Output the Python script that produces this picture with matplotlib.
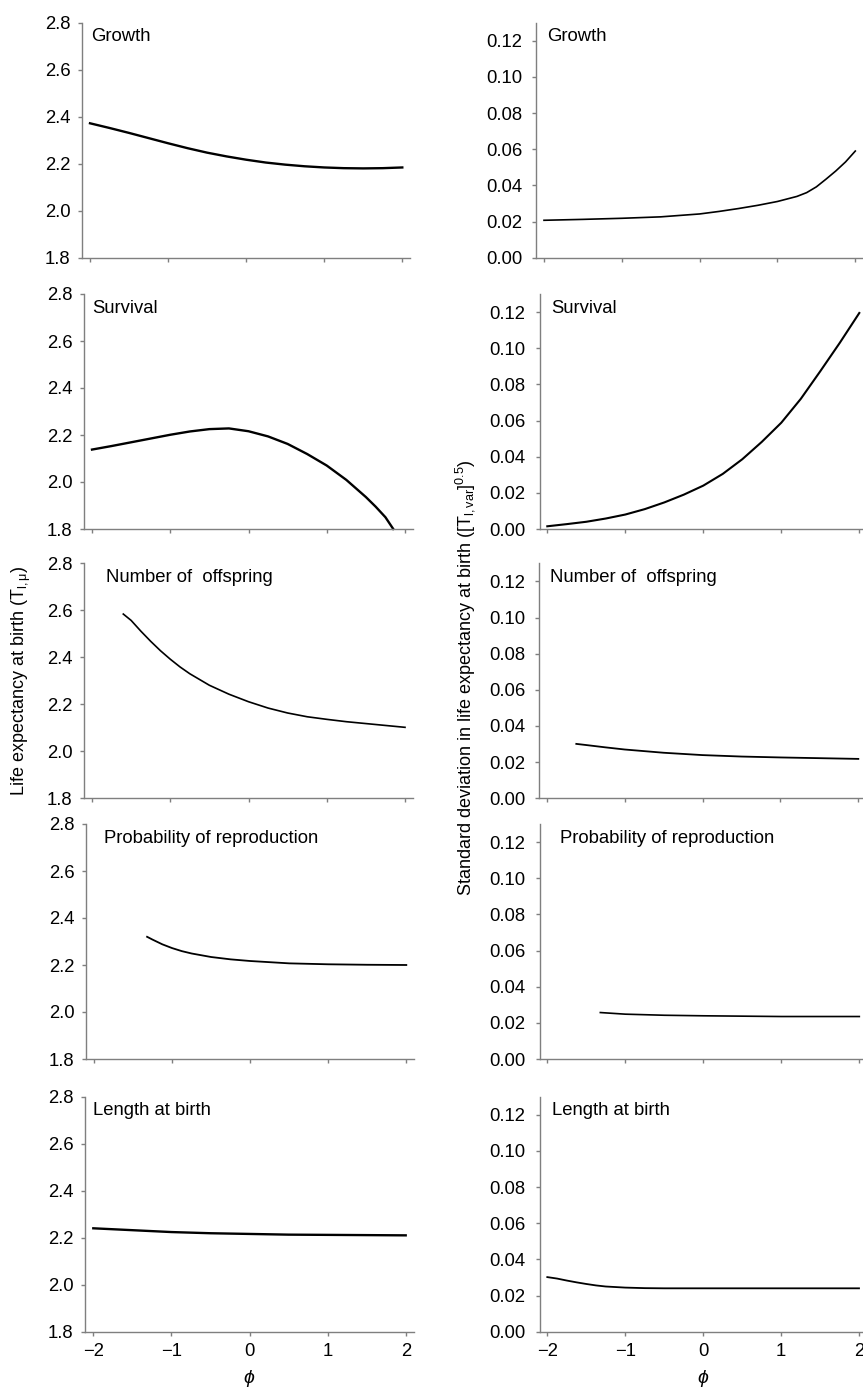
import matplotlib
matplotlib.use("Agg")
import matplotlib.pyplot as plt
import numpy as np

plt.rcParams["font.family"] = ["Liberation Sans", "DejaVu Sans"]
plt.rcParams["font.size"] = 13.3
plt.rcParams["mathtext.fontset"] = "custom"
plt.rcParams["mathtext.rm"] = "Liberation Sans"
plt.rcParams["mathtext.it"] = "Liberation Sans:italic"

titles = ["Growth", "Survival", "Number of  offspring",
          "Probability of reproduction", "Length at birth"]

# life expectancy at birth (left column)
growth_mu_x = [-2, -1.75, -1.5, -1.25, -1, -0.75, -0.5, -0.25, 0, 0.25, 0.5, 0.75, 1, 1.25, 1.5, 1.75, 2]
growth_mu_y = [2.372, 2.352, 2.331, 2.309, 2.287, 2.266, 2.247, 2.231, 2.217, 2.205, 2.196, 2.189, 2.184, 2.181, 2.180, 2.181, 2.184]
surv_mu_x = [-2, -1.75, -1.5, -1.25, -1, -0.75, -0.5, -0.25, 0, 0.25, 0.5, 0.75, 1, 1.25, 1.5, 1.625, 1.75, 1.85]
surv_mu_y = [2.138, 2.153, 2.169, 2.185, 2.201, 2.215, 2.225, 2.228, 2.216, 2.194, 2.162, 2.119, 2.070, 2.009, 1.936, 1.895, 1.850, 1.800]
off_mu_x = [-1.6, -1.5, -1.375, -1.25, -1.125, -1, -0.875, -0.75, -0.5, -0.25, 0, 0.25, 0.5, 0.75, 1, 1.25, 1.5, 1.75, 2]
off_mu_y = [2.584, 2.557, 2.511, 2.468, 2.428, 2.392, 2.359, 2.330, 2.281, 2.243, 2.211, 2.184, 2.163, 2.147, 2.136, 2.126, 2.118, 2.110, 2.102]
prob_mu_x = [-1.32, -1.25, -1.125, -1, -0.875, -0.75, -0.5, -0.25, 0, 0.5, 1, 1.5, 2]
prob_mu_y = [2.320, 2.308, 2.288, 2.272, 2.259, 2.249, 2.234, 2.224, 2.217, 2.207, 2.203, 2.201, 2.200]
len_mu_x = [-2, -1.5, -1, -0.5, 0, 0.5, 1, 1.5, 2]
len_mu_y = [2.240, 2.232, 2.224, 2.219, 2.216, 2.213, 2.212, 2.211, 2.210]

# standard deviation (right column)
growth_sd_x = [-2, -1.5, -1, -0.5, 0, 0.25, 0.5, 0.75, 1, 1.25, 1.375, 1.5, 1.625, 1.75, 1.875, 2]
growth_sd_y = [0.0207, 0.0212, 0.0218, 0.0226, 0.0242, 0.0256, 0.0272, 0.0290, 0.0311, 0.0339, 0.0360, 0.0392, 0.0435, 0.0480, 0.0530, 0.0590]
surv_sd_x = [-2, -1.75, -1.5, -1.25, -1, -0.75, -0.5, -0.25, 0, 0.25, 0.5, 0.75, 1, 1.25, 1.5, 1.75, 2]
surv_sd_y = [0.0015, 0.0027, 0.0040, 0.0058, 0.0080, 0.0110, 0.0147, 0.0190, 0.0240, 0.0305, 0.0386, 0.0482, 0.0588, 0.0720, 0.0873, 0.1030, 0.1195]
off_sd_x = [-1.62, -1.5, -1.25, -1, -0.5, 0, 0.5, 1, 1.5, 2]
off_sd_y = [0.0301, 0.0295, 0.0282, 0.0270, 0.0252, 0.0239, 0.0231, 0.0226, 0.0222, 0.0218]
prob_sd_x = [-1.32, -1, -0.5, 0, 1, 2]
prob_sd_y = [0.0257, 0.0248, 0.0242, 0.0239, 0.0235, 0.0235]
len_sd_x = [-2, -1.875, -1.75, -1.625, -1.5, -1.375, -1.25, -1, -0.75, -0.5, 0, 1, 2]
len_sd_y = [0.0302, 0.0294, 0.0283, 0.0273, 0.0264, 0.0256, 0.0250, 0.0244, 0.0241, 0.0240, 0.0240, 0.0240, 0.0240]

left_series = [(growth_mu_x, growth_mu_y), (surv_mu_x, surv_mu_y), (off_mu_x, off_mu_y),
               (prob_mu_x, prob_mu_y), (len_mu_x, len_mu_y)]
right_series = [(growth_sd_x, growth_sd_y), (surv_sd_x, surv_sd_y), (off_sd_x, off_sd_y),
                (prob_sd_x, prob_sd_y), (len_sd_x, len_sd_y)]
left_lw = [1.7, 1.7, 1.2, 1.3, 1.7]
right_lw = [1.2, 1.5, 1.3, 1.2, 1.3]
left_tx = [0.027, 0.023, 0.065, 0.055, 0.024]
right_tx = [0.033, 0.037, 0.034, 0.063, 0.037]

W, H = 863, 1389
fig = plt.figure(figsize=(W / 100, H / 100), dpi=100)

# pixel positions of x = -2 and x = 2 for each row, left / right column
left_x = [(90, 402.3), (92, 405), (92, 405), (94, 406.3), (93.3, 405.7)]
right_x = [(544, 855.3), (547.3, 859.3), (546.7, 858.3), (547.3, 859.3), (547.3, 859)]
bottoms = [257.7, 529, 798.3, 1059, 1331.7]
ax_h = 235
gray = "#7f7f7f"


def rect(xs, bottom):
    unit = (xs[1] - xs[0]) / 4
    x0 = xs[0] - 0.1 * unit
    return [x0 / W, 1 - bottom / H, 4.2 * unit / W, ax_h / H]


def style(ax, bottom_row, pad):
    for s in ["top", "right"]:
        ax.spines[s].set_visible(False)
    for s in ["left", "bottom"]:
        ax.spines[s].set_color(gray)
        ax.spines[s].set_linewidth(1.0)
    ax.tick_params(color=gray, length=3, width=1, labelcolor="black")
    ax.tick_params(axis="y", pad=pad)
    ax.tick_params(axis="x", pad=5)
    ax.set_xlim(-2.1, 2.1)
    ax.set_xticks([-2, -1, 0, 1, 2])
    if not bottom_row:
        ax.set_xticklabels([])


for i in range(5):
    axl = fig.add_axes(rect(left_x[i], bottoms[i]))
    axr = fig.add_axes(rect(right_x[i], bottoms[i]))

    style(axl, i == 4, 5.5)
    axl.set_ylim(1.8, 2.8)
    axl.set_yticks(np.arange(1.8, 2.81, 0.2))
    axl.set_yticklabels([f"{v:.1f}" for v in np.arange(1.8, 2.81, 0.2)])
    axl.plot(left_series[i][0], left_series[i][1], color="black", lw=left_lw[i], clip_on=False)
    axl.text(left_tx[i], 0.94, titles[i], transform=axl.transAxes, va="center", ha="left")

    style(axr, i == 4, 7)
    axr.set_ylim(0, 0.13)
    axr.set_yticks(np.arange(0, 0.121, 0.02))
    axr.set_yticklabels([f"{v:.2f}" for v in np.arange(0, 0.121, 0.02)])
    axr.plot(right_series[i][0], right_series[i][1], color="black", lw=right_lw[i], clip_on=False)
    axr.text(right_tx[i], 0.94, titles[i], transform=axr.transAxes, va="center", ha="left")

    if i == 4:
        axl.set_xlabel(r"$\phi$", labelpad=6, fontsize=14)
        axr.set_xlabel(r"$\phi$", labelpad=6, fontsize=14)

fig.text(21 / W, 1 - 681 / H, r"Life expectancy at birth (T$_{\rm l,\mu}$)",
         rotation=90, ha="center", va="center", fontsize=13)
fig.text(465 / W, 1 - 678 / H,
         r"Standard deviation in life expectancy at birth ([T$_{\rm l,var}$]$^{0.5}$)",
         rotation=90, ha="center", va="center", fontsize=13)

fig.savefig("out.png", dpi=100)
